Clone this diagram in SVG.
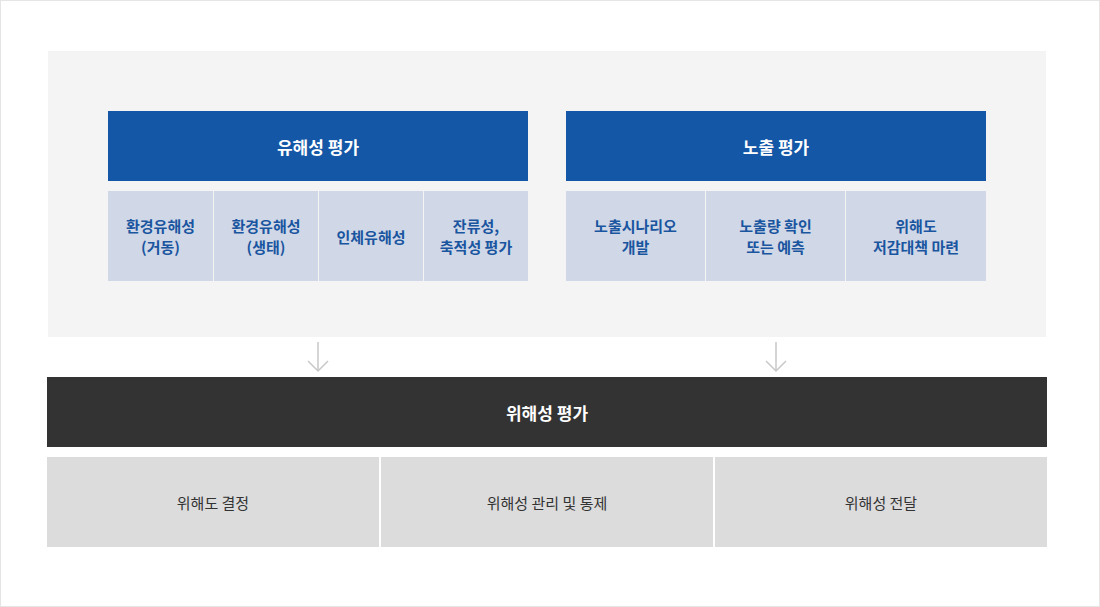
<svg xmlns="http://www.w3.org/2000/svg" width="1100" height="607" viewBox="0 0 1100 607">
<style>
text{font-family:"Noto Sans CJK KR","Noto Sans",sans-serif;text-anchor:middle;dominant-baseline:central}
.hdr{fill:#1457a6}
.hdrt{fill:#fff;font-size:17px;font-weight:bold}
.sub{fill:#d0d8e7}
.subt{fill:#1a55a0;font-size:15px;font-weight:bold}
.bot{fill:#dcdcdc}
.bott{fill:#333;font-size:15px}
.arr{stroke:#c8c8c8;stroke-width:1.5;fill:none}
</style>
<rect x="0.5" y="0.5" width="1099" height="606" fill="#fff" stroke="#e5e5e5"/>
<rect x="48" y="51" width="998" height="286" fill="#f4f4f4"/>
<g id="hazard">
<rect class="hdr" x="108" y="111" width="420" height="70"/>
<text class="hdrt" x="318" y="146">유해성 평가</text>
</g>
<g id="h1"><rect class="sub" x="108" y="191" width="105" height="90"/>
<text class="subt" x="160.5" y="225">환경유해성</text><text class="subt" x="160.5" y="246">(거동)</text></g>
<g id="h2"><rect class="sub" x="214" y="191" width="104" height="90"/>
<text class="subt" x="266" y="225">환경유해성</text><text class="subt" x="266" y="246">(생태)</text></g>
<g id="h3"><rect class="sub" x="319" y="191" width="104" height="90"/>
<text class="subt" x="371" y="236">인체유해성</text></g>
<g id="h4"><rect class="sub" x="424" y="191" width="104" height="90"/>
<text class="subt" x="476" y="225">잔류성,</text><text class="subt" x="476" y="246">축적성 평가</text></g>
<g id="exposure">
<rect class="hdr" x="566" y="111" width="420" height="70"/>
<text class="hdrt" x="776" y="146">노출 평가</text>
</g>
<g id="e1"><rect class="sub" x="566" y="191" width="139" height="90"/>
<text class="subt" x="635.5" y="225">노출시나리오</text><text class="subt" x="635.5" y="246">개발</text></g>
<g id="e2"><rect class="sub" x="706" y="191" width="139" height="90"/>
<text class="subt" x="775.5" y="225">노출량 확인</text><text class="subt" x="775.5" y="246">또는 예측</text></g>
<g id="e3"><rect class="sub" x="846" y="191" width="140" height="90"/>
<text class="subt" x="916" y="225">위해도</text><text class="subt" x="916" y="246">저감대책 마련</text></g>
<g id="connectors">
<path class="arr" d="M318 342V371M308 361L318 371L328 361"/>
<path class="arr" d="M776 342V371M766 361L776 371L786 361"/>
</g>
<g id="risk">
<rect x="47" y="377" width="1000" height="70" fill="#333"/>
<text class="hdrt" x="547" y="412">위해성 평가</text>
</g>
<g id="r1"><rect class="bot" x="47" y="457" width="332" height="90"/>
<text class="bott" x="213" y="502">위해도 결정</text></g>
<g id="r2"><rect class="bot" x="381" y="457" width="332" height="90"/>
<text class="bott" x="547" y="502">위해성 관리 및 통제</text></g>
<g id="r3"><rect class="bot" x="715" y="457" width="332" height="90"/>
<text class="bott" x="881" y="502">위해성 전달</text></g>
</svg>
